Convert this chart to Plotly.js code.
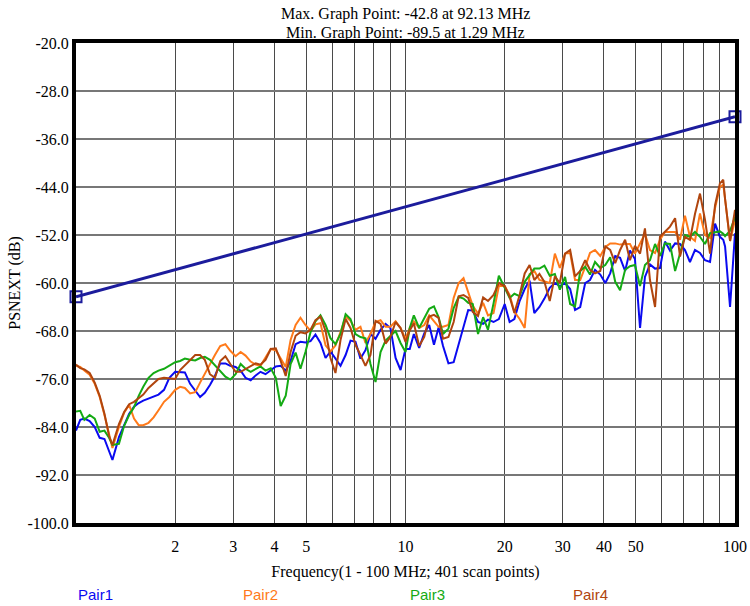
<!DOCTYPE html>
<html>
<head>
<meta charset="utf-8">
<script src="https://cdn.plot.ly/plotly-3.0.1.min.js"></script>
<style>html,body{margin:0;padding:0;background:#fff;}#chart{width:750px;height:606px;}</style>
</head>
<body>
<div id="chart"></div>
<script>
// Frequency grid (MHz)
const freq = [1.00,1.03,1.06,1.10,1.14,1.18,1.22,1.26,1.29,1.35,1.40,1.45,1.50,1.55,1.60,1.66,1.72,1.78,1.85,1.92,
  2.00,2.07,2.14,2.22,2.30,2.38,2.46,2.55,2.64,2.74,2.84,2.94,3.05,3.16,3.27,3.39,3.51,3.63,3.76,3.90,
  4.04,4.18,4.33,4.48,4.64,4.80,4.97,5.15,5.33,5.52,5.72,5.92,6.13,6.35,6.58,6.81,7.05,7.30,7.56,7.83,
  8.11,8.40,8.70,9.00,9.33,9.66,10.0,10.3,10.6,11.0,11.4,11.8,12.2,12.6,13.0,13.5,14.0,14.5,15.0,15.5,
  16.0,16.6,17.2,17.8,18.5,19.2,20.0,20.7,21.4,22.2,23.0,23.8,24.6,25.5,26.4,27.4,28.4,29.4,30.5,31.6,
  32.7,33.9,35.1,36.3,37.6,39.0,40.4,41.8,43.3,44.8,46.4,48.0,49.7,51.5,53.3,55.2,57.2,59.2,61.3,63.5,
  65.8,68.1,70.5,73.0,75.6,78.3,81.1,84.0,87.0,90.0,92.13,93.3,96.6,100];

const pair1 = [-84.6,-82.8,-82.6,-83.0,-84.0,-85.8,-86.0,-88.0,-89.5,-85.7,-83.8,-81.8,-80.6,-80.0,-79.6,-79.3,-79.0,-78.6,-77.8,-75.8,
  -74.8,-74.8,-74.9,-76.8,-78.0,-79.0,-78.3,-77.0,-75.5,-73.4,-73.4,-73.8,-74.0,-74.6,-75.8,-76.2,-75.4,-74.8,-75.2,-74.6,
  -73.9,-73.8,-74.6,-73.0,-70.2,-69.8,-69.9,-69.7,-68.6,-70.0,-72.5,-71.4,-72.5,-73.8,-72.0,-69.6,-69.8,-72.6,-71.2,-68.5,
  -69.3,-67.8,-66.8,-67.5,-72.5,-74.5,-71.0,-71.0,-68.5,-70.8,-68.4,-67.0,-70.3,-67.4,-70.5,-73.4,-73.2,-70.2,-67.4,-64.5,
  -64.6,-66.5,-66.8,-66.1,-66.5,-66.0,-63.5,-66.5,-66.0,-63.0,-61.0,-59.6,-65.0,-64.0,-62.6,-60.8,-60.0,-60.5,-60.0,-61.0,
  -64.5,-64.0,-60.0,-59.5,-57.8,-58.6,-60.0,-58.4,-55.5,-55.8,-58.0,-54.6,-56.0,-67.5,-59.0,-56.9,-57.6,-57.5,-53.1,-54.6,
  -53.4,-53.5,-54.5,-56.5,-54.5,-55.0,-56.2,-56.5,-50.1,-52.3,-52.8,-53.9,-64.0,-51.7];

const pair2 = [-73.8,-74.0,-74.6,-75.3,-76.8,-79.0,-82.0,-85.0,-87.5,-84.0,-81.6,-80.3,-82.6,-83.7,-83.7,-83.3,-82.4,-81.2,-79.8,-79.0,
  -77.8,-77.3,-77.5,-78.4,-78.2,-76.6,-75.1,-73.5,-72.0,-70.5,-70.2,-71.3,-72.2,-71.5,-72.1,-73.1,-73.6,-73.8,-72.5,-71.0,
  -71.2,-72.5,-74.0,-69.5,-67.0,-65.8,-67.0,-68.0,-66.9,-66.7,-70.4,-71.4,-70.4,-68.2,-65.6,-66.3,-67.8,-67.3,-70.0,-68.5,
  -66.5,-66.2,-67.3,-67.3,-66.4,-67.5,-69.3,-67.5,-66.4,-67.5,-67.0,-65.4,-66.4,-67.3,-67.3,-67.0,-62.5,-60.0,-59.2,-61.7,
  -63.8,-65.1,-63.3,-65.4,-65.0,-60.5,-60.5,-62.0,-64.8,-66.0,-67.5,-58.5,-58.0,-59.5,-59.7,-60.0,-55.1,-57.5,-55.1,-55.0,
  -59.5,-59.5,-57.3,-55.0,-54.5,-55.5,-54.0,-53.4,-53.4,-53.6,-53.5,-53.5,-55.1,-53.4,-51.8,-54.5,-55.0,-52.8,-51.5,-51.5,
  -51.5,-52.8,-48.8,-52.3,-53.0,-48.4,-52.0,-52.5,-47.5,-44.0,-43.6,-46.0,-53.0,-49.5];

const pair3 = [-81.4,-81.3,-82.8,-82.0,-82.6,-84.8,-84.6,-85.8,-87.0,-86.8,-83.8,-82.0,-80.7,-78.8,-77.3,-75.8,-75.0,-74.6,-74.3,-73.8,
  -73.2,-73.0,-72.6,-72.8,-72.9,-72.5,-72.3,-72.8,-73.7,-74.8,-75.6,-76.1,-75.2,-73.5,-74.3,-74.8,-74.3,-73.9,-74.6,-74.2,
  -75.8,-80.5,-78.8,-73.5,-71.6,-74.3,-71.5,-68.2,-66.4,-65.4,-67.0,-69.2,-70.2,-68.5,-65.2,-66.0,-68.5,-69.0,-69.2,-73.5,
  -76.5,-71.5,-69.6,-68.9,-68.0,-70.0,-71.5,-67.5,-65.4,-67.5,-66.0,-64.3,-63.9,-65.7,-68.5,-67.6,-64.2,-62.3,-62.6,-63.3,
  -63.5,-68.5,-65.7,-67.8,-63.4,-58.8,-60.8,-62.5,-61.8,-62.2,-59.8,-58.6,-57.6,-57.6,-57.1,-58.8,-58.5,-61.1,-59.0,-63.5,
  -63.9,-58.0,-57.3,-58.6,-56.5,-57.5,-57.0,-55.7,-59.8,-61.2,-57.8,-57.2,-57.0,-60.5,-57.0,-56.2,-53.5,-55.5,-53.4,-53.5,
  -58.0,-55.1,-52.0,-52.3,-51.5,-52.3,-53.5,-51.7,-51.5,-51.4,-51.8,-52.2,-51.3,-49.0];

const pair4 = [-73.6,-74.2,-74.4,-75.0,-76.6,-78.8,-81.8,-85.5,-87.0,-83.5,-81.5,-80.2,-79.8,-79.2,-78.6,-77.5,-76.8,-76.0,-75.8,-75.9,
  -76.0,-74.5,-73.7,-72.8,-72.0,-72.0,-72.8,-75.2,-75.8,-73.0,-72.2,-73.5,-74.8,-74.8,-74.3,-73.9,-73.4,-73.6,-72.8,-71.0,
  -70.9,-73.0,-75.5,-71.5,-68.8,-68.2,-68.4,-67.8,-66.2,-65.6,-68.0,-72.5,-75.0,-69.5,-66.0,-67.5,-70.3,-72.0,-73.8,-72.0,
  -66.3,-66.8,-70.1,-69.0,-66.5,-67.5,-69.8,-67.9,-66.7,-70.5,-69.0,-65.6,-65.3,-65.8,-69.3,-69.0,-66.5,-62.2,-62.0,-62.5,
  -64.8,-65.5,-62.4,-63.0,-62.0,-60.0,-60.5,-62.3,-65.0,-62.0,-58.4,-57.0,-59.5,-58.5,-59.8,-63.0,-58.9,-60.0,-55.1,-54.5,
  -58.9,-58.0,-56.2,-57.8,-58.4,-58.0,-53.9,-54.5,-56.7,-54.5,-52.8,-56.2,-53.8,-55.1,-50.9,-59.5,-64.0,-52.3,-51.5,-50.6,
  -49.2,-55.6,-52.3,-52.8,-48.5,-45.1,-49.5,-55.1,-47.0,-43.4,-42.8,-46.0,-53.0,-47.8];

// Limit line end points
const limitFreq = [1, 100];
const limitVal = [-62.3, -32.3];

const seriesNames = ['Pair1','Pair2','Pair3','Pair4'];
const seriesColors = ['#0a0af0','#ff7a1a','#14aa14','#b0450e'];
const seriesData = [pair1, pair2, pair3, pair4];

const xTickVals = [1,2,3,4,5,6,7,8,9,10,20,30,40,50,60,70,80,90,100];
const xTickText = ['','2','3','4','5','','','','','10','20','30','40','50','','','','','100'];
const yTickVals = [-100,-92,-84,-76,-68,-60,-52,-44,-36,-28,-20];
const yTickText = ['-100.0','-92.0','-84.0','-76.0','-68.0','-60.0','-52.0','-44.0','-36.0','-28.0','-20.0'];

const titleLines = ['Max. Graph Point: -42.8 at 92.13 MHz', 'Min. Graph Point: -89.5 at 1.29 MHz'];

const serif = 'Liberation Serif';
const sans = 'Liberation Sans';

const traces = seriesData.map((d, i) => ({
  x: freq, y: d, type: 'scatter', mode: 'lines', name: seriesNames[i],
  line: {color: seriesColors[i], width: 2}
}));
traces.push({
  x: limitFreq, y: limitVal, type: 'scatter', mode: 'lines+markers', name: 'Limit',
  line: {color: '#1c1c9c', width: 3},
  marker: {symbol: 'square-open', size: 11, color: '#1c1c9c', line: {width: 2, color: '#1c1c9c'}},
  cliponaxis: false
});

// plot area: left 76, right 735, top 43, bottom 523 (pixels)
const pxX = v => (v - 76) / 659;
const pxY = v => (523 - v) / 480;

const annotations = seriesNames.map((n, i) => ({
  text: n, xref: 'paper', yref: 'paper', x: pxX([95, 260, 427, 590][i]), y: pxY(594),
  xanchor: 'center', yanchor: 'middle', showarrow: false,
  font: {family: sans, size: 15, color: seriesColors[i]}
}));
titleLines.forEach((t, i) => annotations.push({
  text: t, xref: 'paper', yref: 'paper', x: pxX(405), y: pxY([14, 33][i]),
  xanchor: 'center', yanchor: 'middle', showarrow: false,
  font: {family: serif, size: 16, color: '#000'}
}));

const layout = {
  width: 750, height: 606,
  margin: {l: 76, r: 15, t: 43, b: 83},
  paper_bgcolor: '#fff', plot_bgcolor: '#fff',
  showlegend: false,
  xaxis: {
    type: 'log', range: [0, 2], tickmode: 'array', tickvals: xTickVals, ticktext: xTickText,
    showgrid: true, gridcolor: '#4a4a4a', gridwidth: 1, zeroline: false,
    showline: true, linecolor: '#000', linewidth: 4, mirror: true,
    ticks: 'outside', ticklen: 6, tickcolor: 'rgba(0,0,0,0)',
    tickfont: {family: serif, size: 16, color: '#000'},
    title: {text: 'Frequency(1 - 100 MHz; 401 scan points)', font: {family: serif, size: 16, color: '#000'}, standoff: 13}
  },
  yaxis: {
    range: [-100, -20], tickmode: 'array', tickvals: yTickVals, ticktext: yTickText,
    showgrid: true, gridcolor: '#777', gridwidth: 2, zeroline: false,
    showline: true, linecolor: '#000', linewidth: 4, mirror: true,
    ticks: '', tickfont: {family: serif, size: 16, color: '#000'},
    title: {text: 'PSNEXT (dB)', font: {family: serif, size: 16, color: '#000'}, standoff: 4}
  },
  annotations: annotations
};

Plotly.newPlot('chart', traces, layout, {displayModeBar: false, staticPlot: true});
</script>
</body>
</html>
